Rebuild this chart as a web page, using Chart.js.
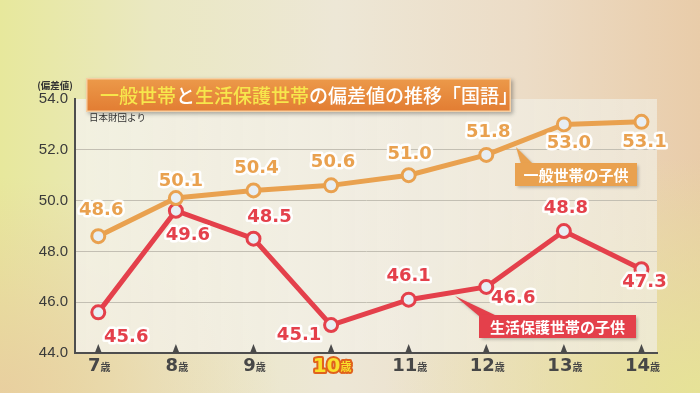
<!DOCTYPE html>
<html><head><meta charset="utf-8">
<script src="https://cdn.jsdelivr.net/npm/chart.js@4/dist/chart.umd.min.js"></script>
<style>
html,body{margin:0;padding:0;width:700px;height:393px;overflow:hidden;}
body{background:
 radial-gradient(ellipse 45% 60% at 100% 100%, rgba(230,228,150,0.95) 0%, rgba(230,228,150,0) 100%),
 radial-gradient(ellipse 40% 55% at 0% 100%, rgba(233,203,160,0.85) 0%, rgba(233,203,160,0) 100%),
 linear-gradient(90deg, #e7e89c 0%, #eae8c2 22%, #ede7d6 48%, #ecdcc6 75%, #e9cca9 100%);}
canvas{display:block;}
</style></head>
<body>
<canvas id="c" width="700" height="393"></canvas>
<script>
const ages = [7, 8, 9, 10, 11, 12, 13, 14];
const ageLabels = ['7', '8', '9', '10', '11', '12', '13', '14'];
const ageSuffix = '歳';
const highlightAge = 10;
const generalValues = [48.6, 50.1, 50.4, 50.6, 51.0, 51.8, 53.0, 53.1];
const welfareValues = [45.6, 49.6, 48.5, 45.1, 46.1, 46.6, 48.8, 47.3];
const generalName = '一般世帯の子供';
const welfareName = '生活保護世帯の子供';
const yMin = 44, yMax = 54, yStep = 2;
const yUnit = '(偏差値)';
const sourceText = '日本財団より';
const titleParts = [['一般世帯', 'y'], ['と', 'w'], ['生活保護世帯', 'y'], ['の偏差値の推移「国語」', 'w']];

// label placement offsets (px) relative to each point
const generalLabelOffset = [[3,-26],[5,-17],[3,-22],[2,-23],[1,-21],[2,-23],[5,19],[3,20]];
const welfareLabelOffset = [[28,25],[12,25],[16,-21],[-32,10],[0,-23],[27,11],[2,-23],[3,13]];

const ORANGE = '#e9a14f';
const RED = '#e4404b';

const panelPlugin = {
  id: 'panel',
  beforeDraw(chart) {
    const {ctx, chartArea: a} = chart;
    ctx.save();
    const g = ctx.createLinearGradient(a.left, 0, a.right, 0);
    g.addColorStop(0, 'rgba(243,241,232,0.85)');
    g.addColorStop(1, 'rgba(240,236,224,0.75)');
    ctx.fillStyle = g;
    ctx.fillRect(a.left, a.top, a.right - a.left, a.bottom - a.top);
    ctx.restore();
  }
};

function drawLabels(ctx, meta, values, offsets, color) {
  ctx.save();
  ctx.font = 'bold 18px "DejaVu Sans"';
  ctx.textAlign = 'center';
  ctx.textBaseline = 'middle';
  ctx.lineJoin = 'round';
  meta.data.forEach((pt, i) => {
    const t = values[i].toFixed(1);
    const x = pt.x + offsets[i][0], y = pt.y + offsets[i][1];
    ctx.strokeStyle = 'rgba(255,255,255,0.95)';
    ctx.lineWidth = 5;
    ctx.strokeText(t, x, y);
    ctx.fillStyle = color;
    ctx.fillText(t, x, y);
  });
  ctx.restore();
}

const labelPlugin = {
  id: 'labels',
  afterDatasetsDraw(chart) {
    const ctx = chart.ctx;
    drawLabels(ctx, chart.getDatasetMeta(0), generalValues, generalLabelOffset, ORANGE);
    drawLabels(ctx, chart.getDatasetMeta(1), welfareValues, welfareLabelOffset, RED);
  }
};

function callout(ctx, x, y, w, h, color, text, tip, b1, b2) {
  ctx.save();
  ctx.shadowColor = 'rgba(0,0,0,0.25)';
  ctx.shadowBlur = 3; ctx.shadowOffsetX = 1.5; ctx.shadowOffsetY = 1.5;
  ctx.fillStyle = color;
  ctx.beginPath();
  ctx.moveTo(tip[0], tip[1]); ctx.lineTo(b1[0], b1[1]); ctx.lineTo(b2[0], b2[1]); ctx.closePath();
  ctx.fill();
  ctx.fillRect(x, y, w, h);
  ctx.shadowColor = 'transparent';
  ctx.fillStyle = '#ffffff';
  ctx.font = 'bold 15px "Noto Sans CJK JP"';
  ctx.textAlign = 'center';
  ctx.textBaseline = 'middle';
  ctx.fillText(text, x + w / 2, y + h / 2 + 1);
  ctx.restore();
}

const decoPlugin = {
  id: 'deco',
  afterDraw(chart) {
    const ctx = chart.ctx;
    const xs = chart.scales.x, a = chart.chartArea;
    // tick triangles + x labels
    ctx.save();
    ages.forEach((age, i) => {
      const px = xs.getPixelForValue(age);
      ctx.fillStyle = '#4a4a4a';
      ctx.beginPath();
      ctx.moveTo(px, a.bottom - 9); ctx.lineTo(px - 3.5, a.bottom); ctx.lineTo(px + 3.5, a.bottom); ctx.closePath();
      ctx.fill();
      const hi = age === highlightAge;
      const f1 = hi ? 'bold 20px "DejaVu Sans"' : 'bold 18px "DejaVu Sans"';
      const f2 = hi ? 'bold 11px "Noto Sans CJK JP"' : 'bold 10px "Noto Sans CJK JP"';
      ctx.font = f1; const w1 = ctx.measureText(ageLabels[i]).width;
      ctx.font = f2; const w2 = ctx.measureText(ageSuffix).width;
      const sx = px - (w1 + w2) / 2 + 1;
      const by = 371;
      ctx.textBaseline = 'alphabetic'; ctx.textAlign = 'left';
      ctx.lineJoin = 'round';
      if (hi) {
        ctx.strokeStyle = '#e0621c'; ctx.lineWidth = 4;
        ctx.font = f1; ctx.strokeText(ageLabels[i], sx, by + 1);
        ctx.font = f2; ctx.strokeText(ageSuffix, sx + w1, by);
        ctx.fillStyle = '#f8e02c';
      } else {
        ctx.fillStyle = '#474747';
      }
      ctx.font = f1; ctx.fillText(ageLabels[i], sx, hi ? by + 1 : by);
      ctx.font = f2; ctx.fillText(ageSuffix, sx + w1, by);
    });
    ctx.restore();

    // unit & source
    ctx.save();
    ctx.fillStyle = '#333';
    ctx.font = 'bold 9.5px "Noto Sans CJK JP"';
    ctx.textAlign = 'center'; ctx.textBaseline = 'middle';
    ctx.fillText(yUnit, 55, 85);
    ctx.font = '9.5px "Noto Sans CJK JP"';
    ctx.textAlign = 'left';
    ctx.fillText(sourceText, 89, 117);
    ctx.restore();

    // title box
    ctx.save();
    ctx.shadowColor = 'rgba(0,0,0,0.3)';
    ctx.shadowBlur = 4; ctx.shadowOffsetX = 2; ctx.shadowOffsetY = 2;
    const g = ctx.createLinearGradient(0, 78, 0, 112);
    g.addColorStop(0, '#ec9a4a'); g.addColorStop(1, '#e27c32');
    ctx.fillStyle = g;
    ctx.fillRect(86, 78, 425, 34);
    ctx.shadowColor = 'transparent';
    ctx.strokeStyle = '#f6cfa2'; ctx.lineWidth = 1.5;
    ctx.strokeRect(86.75, 78.75, 423.5, 32.5);
    ctx.font = '500 19px "Noto Sans CJK JP"';
    ctx.textBaseline = 'middle'; ctx.textAlign = 'left';
    let tx = 100;
    titleParts.forEach(([t, c]) => {
      ctx.fillStyle = c === 'y' ? '#f7e64c' : '#ffffff';
      ctx.fillText(t, tx, 96);
      tx += ctx.measureText(t).width;
    });
    ctx.restore();

    // callouts
    callout(ctx, 515, 163, 122, 23, ORANGE, generalName, [516, 147], [521, 164], [533, 164]);
    callout(ctx, 479, 315, 157, 23, RED, welfareName, [455, 296], [479, 316], [497, 316]);
  }
};

const gridColor = '#c3bfb3';

new Chart(document.getElementById('c'), {
  type: 'line',
  data: {
    datasets: [
      {
        label: generalName,
        data: ages.map((a, i) => ({x: a, y: generalValues[i]})),
        borderColor: ORANGE, borderWidth: 5,
        pointRadius: 6.5, pointBorderWidth: 3,
        pointBackgroundColor: '#e8eef3', pointBorderColor: ORANGE,
        tension: 0
      },
      {
        label: welfareName,
        data: ages.map((a, i) => ({x: a, y: welfareValues[i]})),
        borderColor: RED, borderWidth: 5,
        pointRadius: 6.5, pointBorderWidth: 3,
        pointBackgroundColor: '#e8eef3', pointBorderColor: RED,
        tension: 0
      }
    ]
  },
  options: {
    responsive: false,
    animation: false,
    layout: {padding: {top: 99, right: 43, left: 0, bottom: 0}},
    plugins: {legend: {display: false}, tooltip: {enabled: false}},
    scales: {
      x: {
        type: 'linear', min: 6.7, max: 14.2,
        grid: {display: false},
        ticks: {display: false},
        border: {display: true, color: '#4e4e4e', width: 2},
        afterFit: s => { s.height = 40; }
      },
      y: {
        min: yMin, max: yMax,
        ticks: {stepSize: yStep, color: '#3a3a3a', padding: 7,
          font: {family: '"Liberation Sans"', size: 15},
          callback: v => v.toFixed(1)},
        grid: {color: c => (c.tick && c.tick.value === yMax) ? 'rgba(0,0,0,0)' : gridColor, lineWidth: 1, drawTicks: false},
        border: {display: true, color: '#4e4e4e', width: 2},
        afterFit: s => { s.width = 75; }
      }
    }
  },
  plugins: [panelPlugin, labelPlugin, decoPlugin]
});
</script>
</body></html>
